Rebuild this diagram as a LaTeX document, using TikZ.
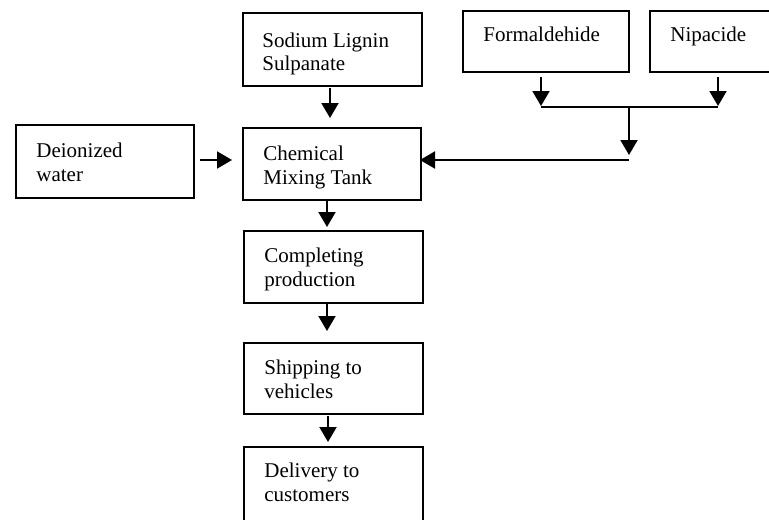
\documentclass[tikz,border=0pt]{standalone}
\usepackage{fontspec}
\setmainfont{Liberation Serif}
\usetikzlibrary{arrows.meta}
\tikzset{
  box/.style={draw, line width=1pt, rectangle, inner sep=0pt, anchor=north west},
  lbl/.style={anchor=base west, inner sep=0pt, align=left, font=\fontsize{10.5pt}{12pt}\selectfont},
  arr/.style={line width=1pt, -{Triangle[width=8.5pt,length=7.5pt]}},
  ln/.style={line width=1pt}
}
\begin{document}
\begin{tikzpicture}[x=0.5pt,y=-0.5pt]
\useasboundingbox (0,0) rectangle (769,519);
% boxes
\node[box, minimum width=89.5pt, minimum height=36.5pt] (sod) at (242,12) {};
\node[box, minimum width=83pt, minimum height=30.5pt] (form) at (462,10) {};
\node[box, minimum width=63pt, minimum height=30.5pt] (nip) at (649,10) {};
\node[box, minimum width=89pt, minimum height=36.5pt] (dei) at (15,124) {};
\node[box, minimum width=89pt, minimum height=36pt] (chem) at (242,127) {};
\node[box, minimum width=89.5pt, minimum height=36pt] (comp) at (243,230) {};
\node[box, minimum width=89.5pt, minimum height=35.5pt] (ship) at (243,342) {};
\node[box, minimum width=89.5pt, minimum height=38.5pt] (deliv) at (243,446) {};
% texts
\node[lbl] (sodt1) at (262,47) {Sodium Lignin};
\node[lbl] (sodt2) at (262,71) {Sulpanate};
\node[lbl] (formt) at (483,42) {Formaldehide};
\node[lbl] (nipt) at (670,42) {Nipacide};
\node[lbl] (deit1) at (36,157) {Deionized};
\node[lbl] (deit2) at (36,181) {water};
\node[lbl] (chemt1) at (263,160) {Chemical};
\node[lbl] (chemt2) at (263,184) {Mixing Tank};
\node[lbl] (compt1) at (264,262) {Completing};
\node[lbl] (compt2) at (264,286) {production};
\node[lbl] (shipt1) at (264,374) {Shipping to};
\node[lbl] (shipt2) at (264,398) {vehicles};
\node[lbl] (delt1) at (264,477) {Delivery to};
\node[lbl] (delt2) at (264,501) {customers};
% connector coordinates
\coordinate (a1s) at (330,88);  \coordinate (a1e) at (330,118);
\coordinate (a2s) at (327,200); \coordinate (a2e) at (327,227);
\coordinate (a3s) at (327,304); \coordinate (a3e) at (327,331);
\coordinate (a4s) at (328,416); \coordinate (a4e) at (328,442);
\coordinate (a5s) at (200,160); \coordinate (a5e) at (232,160);
\coordinate (f1) at (541,77);   \coordinate (f2) at (541,106);
\coordinate (n1) at (718,77);   \coordinate (n2) at (718,106);
\coordinate (jl) at (541,107);  \coordinate (jr) at (718,107);
\coordinate (jm) at (629,107);  \coordinate (jd) at (629,155);
\coordinate (hr) at (629,160);  \coordinate (hl) at (420,160);
% connectors
\draw[arr] (a1s) -- (a1e);
\draw[arr] (a2s) -- (a2e);
\draw[arr] (a3s) -- (a3e);
\draw[arr] (a4s) -- (a4e);
\draw[arr] (a5s) -- (a5e);
\draw[arr] (f1) -- (f2);
\draw[arr] (n1) -- (n2);
\draw[ln] (jl) -- (jr);
\draw[arr] (jm) -- (jd);
\draw[arr] (hr) -- (hl);
\end{tikzpicture}
\end{document}
